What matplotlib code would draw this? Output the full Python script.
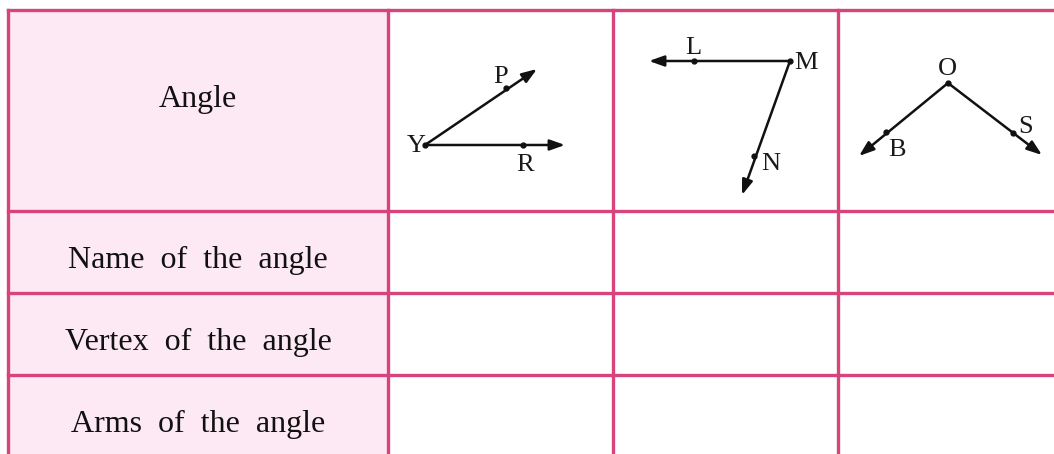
import matplotlib
matplotlib.use("Agg")
import matplotlib.pyplot as plt

# ---- data ----
header_label = "Angle"
row_labels = ["Name of the angle", "Vertex of the angle", "Arms of the angle"]
col_edges = [8, 388, 613, 838, 1060]
row_edges = [10, 211, 293, 375, 460]
text_baselines = [107, 268, 350, 432]

# angle figures: vertex, arm points (dot), arm tips, label positions (pixel coords)
angles = [
    {"vertex": (425, 145), "vname": "Y", "vlabel": (416, 146),
     "arms": [((506, 88), (537, 69), "P", (501, 77)),
              ((523, 145), (565, 145), "R", (525, 165))]},
    {"vertex": (790, 61), "vname": "M", "vlabel": (806, 63),
     "arms": [((694, 61), (649, 61), "L", (693, 48)),
              ((754, 156), (742, 195), "N", (771, 164))]},
    {"vertex": (948, 83), "vname": "O", "vlabel": (947, 69),
     "arms": [((886, 132), (859, 156), "B", (897, 150)),
              ((1013, 133), (1042, 155), "S", (1026, 127))]},
]

line_color = "#d6447b"
pink = "#fde9f3"
serif = ["Liberation Serif", "DejaVu Serif"]

fig = plt.figure(figsize=(10.54, 4.54), dpi=100)
ax = fig.add_axes([0, 0, 1, 1])
ax.set_xlim(0, 1054)
ax.set_ylim(454, 0)
ax.axis("off")

# pink first column
ax.add_patch(plt.Rectangle((col_edges[0], row_edges[0]), col_edges[1] - col_edges[0],
                           row_edges[-1] - row_edges[0], facecolor=pink, edgecolor="none", zorder=0))

# grid lines
for x in col_edges[:-1]:
    ax.plot([x, x], [row_edges[0], row_edges[-1]], color=line_color, lw=2.4, zorder=2)
for y in row_edges[:-1]:
    ax.plot([col_edges[0], col_edges[-1]], [y, y], color=line_color, lw=2.4, zorder=2)

# texts
xc = (col_edges[0] + col_edges[1]) / 2
ax.text(xc, text_baselines[0], header_label, ha="center", va="baseline",
        fontsize=23, family=serif, color="#111111")
for lab, yb in zip(row_labels, text_baselines[1:]):
    ax.text(xc, yb, lab.replace(" ", "  "), ha="center", va="baseline",
            fontsize=23, family=serif, color="#111111")

# angles
for a in angles:
    vx, vy = a["vertex"]
    ax.plot([vx], [vy], "o", color="#111111", ms=3.5, zorder=4)
    ax.text(a["vlabel"][0], a["vlabel"][1], a["vname"], ha="center", va="center",
            fontsize=19, family=serif, color="#1a1a1a")
    for dot, tip, name, lpos in a["arms"]:
        ax.annotate("", xy=tip, xytext=(vx, vy),
                    arrowprops=dict(arrowstyle="-|>,head_length=0.9,head_width=0.32",
                                    color="#111111", lw=1.8, shrinkA=0, shrinkB=0),
                    zorder=3)
        ax.plot([dot[0]], [dot[1]], "o", color="#111111", ms=3.5, zorder=4)
        ax.text(lpos[0], lpos[1], name, ha="center", va="center",
                fontsize=19, family=serif, color="#1a1a1a")

fig.savefig("out.png", dpi=100)
